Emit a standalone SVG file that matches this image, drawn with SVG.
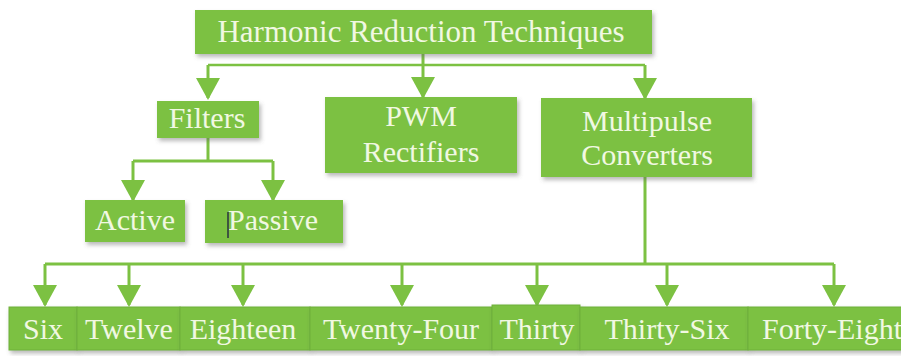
<svg xmlns="http://www.w3.org/2000/svg" width="901" height="356" viewBox="0 0 901 356">
<style>
.box{fill:#7cc142;filter:url(#sh);}
.bbox{fill:#7cc142;stroke:#6fb03a;stroke-width:1;filter:url(#sh);}
.t{font-family:'Liberation Serif','DejaVu Serif',serif;font-size:30px;fill:#f1f8e2;text-anchor:middle;}
.ln{stroke:#7cc142;stroke-width:3;fill:none;}
.ar{stroke:#7cc142;stroke-width:3;fill:none;marker-end:url(#ah);}
</style>
<defs>
<filter id="sh" x="-10%" y="-20%" width="120%" height="150%">
<feDropShadow dx="2" dy="3" stdDeviation="2" flood-color="#666" flood-opacity="0.45"/>
</filter>
<marker id="ah" viewBox="0 0 22 24" refX="20" refY="12" markerWidth="22" markerHeight="24" markerUnits="userSpaceOnUse" orient="auto">
<path d="M0,0 L22,12 L0,24 z" fill="#7cc142"/>
</marker>
</defs>
<g id="connectors">
<path class="ln" d="M423,54 V65"/>
<path class="ln" style="stroke-width:2.5" d="M208,65 H645"/>
<path class="ar" d="M208,65 V98"/>
<path class="ar" d="M423,65 V97"/>
<path class="ar" d="M645,65 V98"/>
<path class="ln" d="M208,138 V161 M133,161 H273"/>
<path class="ar" d="M133,161 V200"/>
<path class="ar" d="M273,161 V200"/>
<path class="ln" d="M645,177 V264 M45,264 H834"/>
<path class="ar" d="M45,264 V305"/>
<path class="ar" d="M129,264 V305"/>
<path class="ar" d="M243,264 V305"/>
<path class="ar" d="M402,264 V305"/>
<path class="ar" d="M537,264 V305"/>
<path class="ar" d="M667,264 V305"/>
<path class="ar" d="M834,264 V305"/>
</g>
<g id="n-root"><rect class="box" x="195" y="10" width="457" height="44"/><text class="t" x="421" y="42" style="font-size:31px">Harmonic Reduction Techniques</text></g>
<g id="n-filters"><rect class="box" x="157" y="101" width="102" height="37"/><text class="t" x="207" y="128">Filters</text></g>
<g id="n-pwm"><rect class="box" x="325" y="97" width="192" height="76"/><text class="t" x="421" y="126">PWM</text><text class="t" x="421" y="162">Rectifiers</text></g>
<g id="n-multi"><rect class="box" x="541" y="98" width="211" height="79"/><text class="t" x="647" y="131">Multipulse</text><text class="t" x="647" y="165">Converters</text></g>
<g id="n-active"><rect class="box" x="85" y="200" width="100" height="42"/><text class="t" x="135" y="230">Active</text></g>
<g id="n-passive"><rect class="box" x="205" y="200" width="138" height="43"/><text class="t" x="273" y="230">Passive</text><line x1="228" y1="212" x2="228" y2="238" stroke="#2a3040" stroke-width="1.5"/></g>
<g id="n-six"><rect class="bbox" x="9" y="307" width="68" height="43"/><text class="t" x="43" y="339">Six</text></g>
<g id="n-twelve"><rect class="bbox" x="77" y="307" width="103" height="43"/><text class="t" x="129" y="339">Twelve</text></g>
<g id="n-eighteen"><rect class="bbox" x="180" y="307" width="130" height="43"/><text class="t" x="243" y="339">Eighteen</text></g>
<g id="n-twentyfour"><rect class="bbox" x="310" y="307" width="182" height="43"/><text class="t" x="401" y="339">Twenty-Four</text></g>
<g id="n-thirty"><rect class="bbox" x="492" y="305" width="88" height="45"/><text class="t" x="537" y="339">Thirty</text></g>
<g id="n-thirtysix"><rect class="bbox" x="580" y="307" width="168" height="43"/><text class="t" x="667" y="339">Thirty-Six</text></g>
<g id="n-fortyeight"><rect class="bbox" x="748" y="307" width="160" height="43"/><text class="t" x="832" y="339">Forty-Eight</text></g>
</svg>
